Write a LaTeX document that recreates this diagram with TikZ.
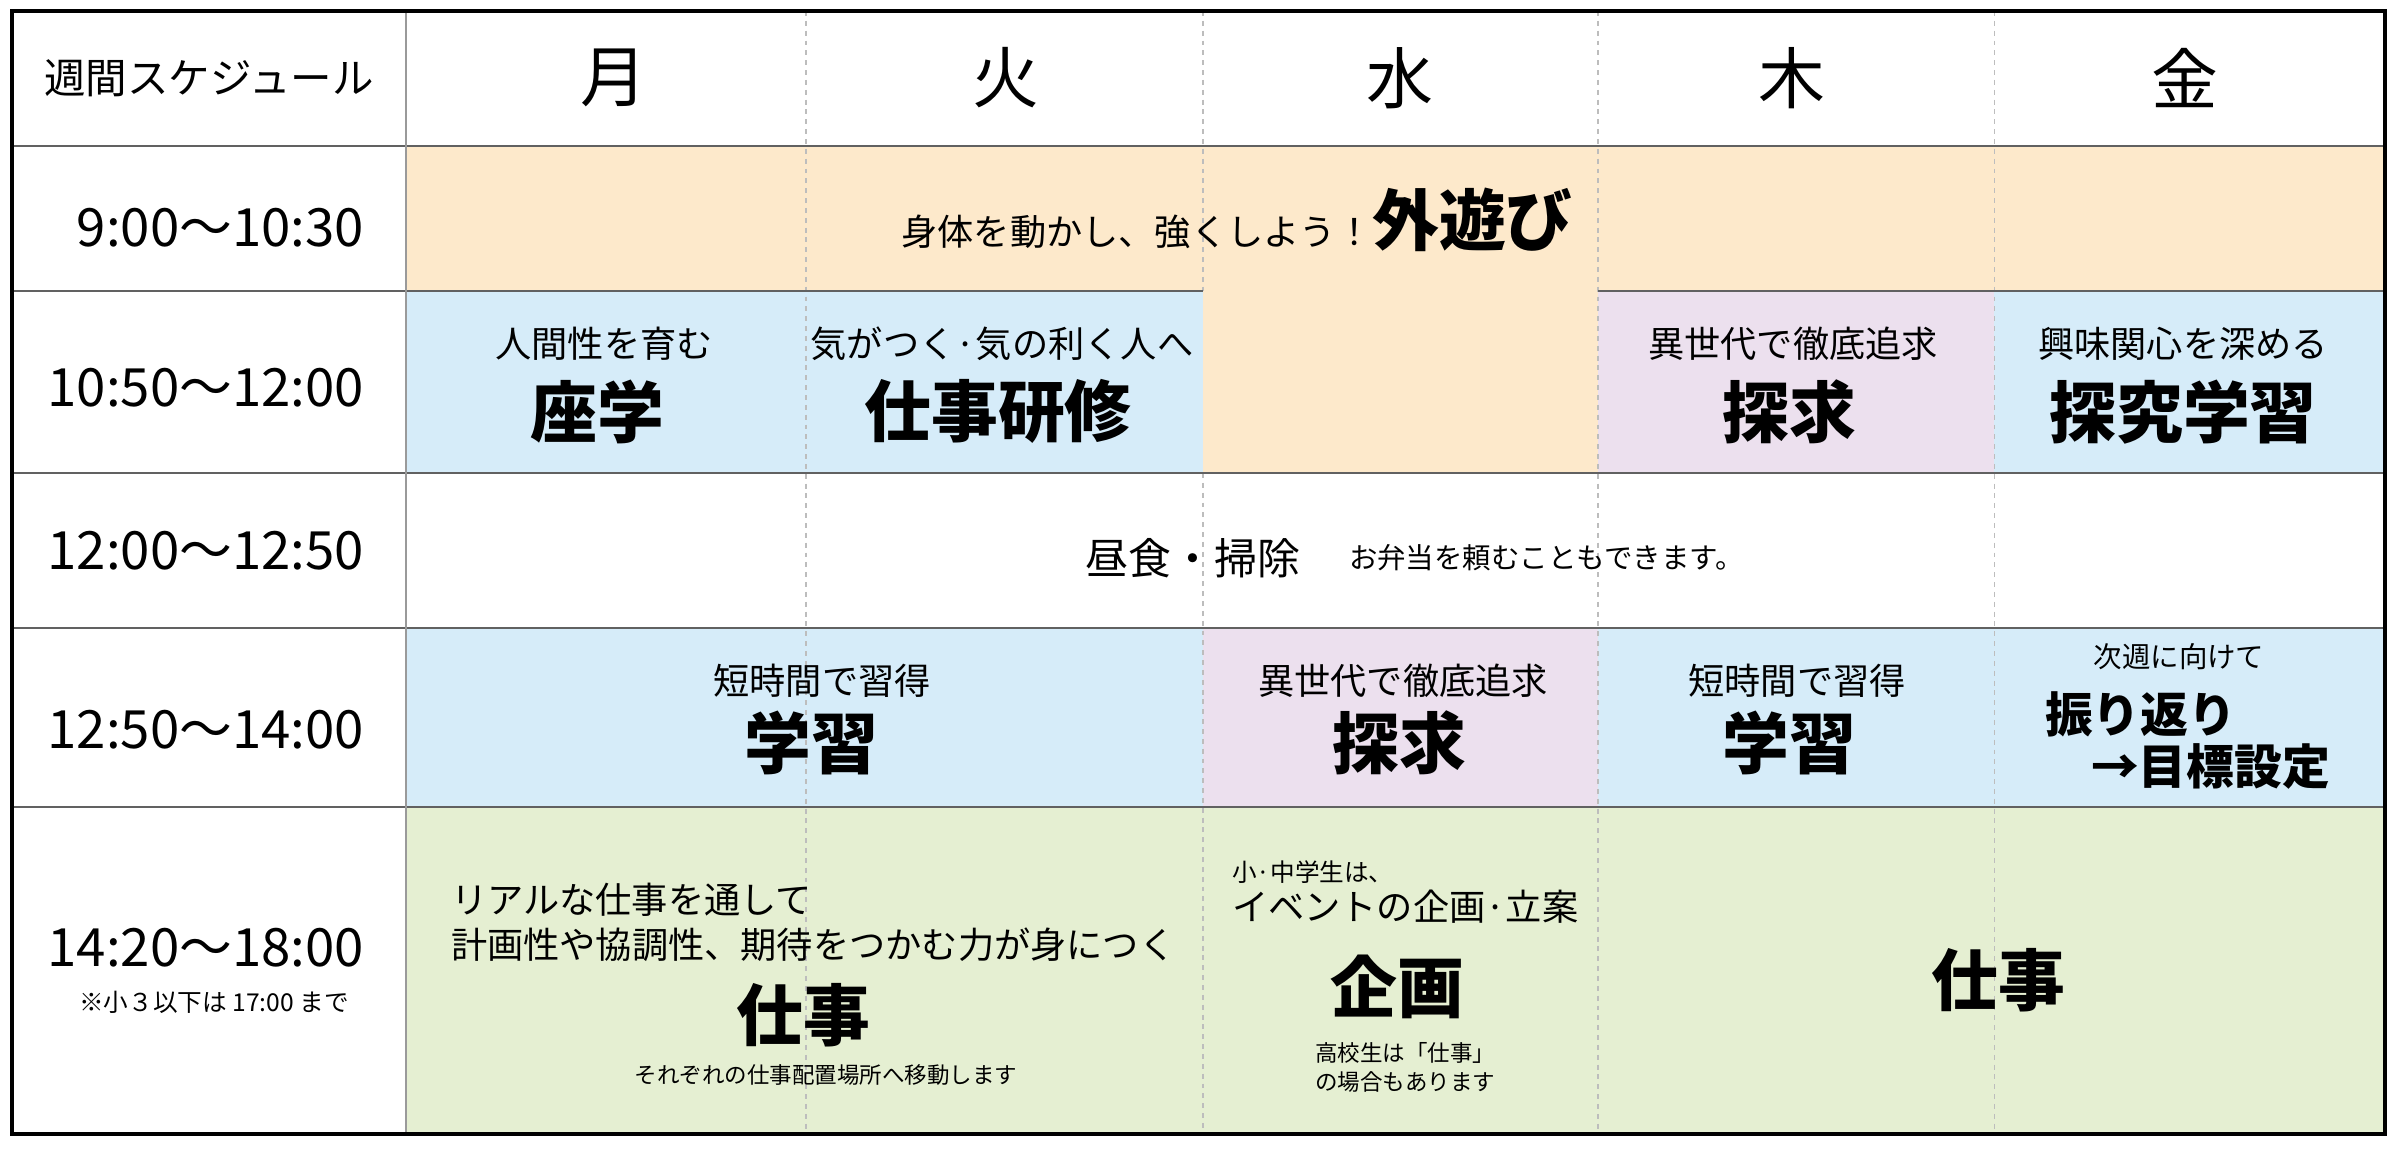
\documentclass[tikz,border=0pt]{standalone}
\usepackage{fontspec}
\usepackage{graphicx}
\setmainfont{Noto Sans CJK JP}
\definecolor{cOrange}{HTML}{FDE9CB}
\definecolor{cBlue}{HTML}{D6ECF9}
\definecolor{cLav}{HTML}{ECE0EE}
\definecolor{cGreen}{HTML}{E5EFD2}
\definecolor{cHline}{HTML}{616161}
\definecolor{cVline}{HTML}{9A9A9A}
\definecolor{cDash}{HTML}{BDBDBD}
\tikzset{
  lbl/.style={inner sep=0pt, outer sep=0pt, text=black},
  bigb/.style={lbl, font=\fontsize{19pt}{22pt}\selectfont\bfseries},
  midb/.style={lbl, font=\fontsize{13.6pt}{16pt}\selectfont\bfseries},
  med/.style={lbl, font=\fontsize{10.3pt}{12pt}\selectfont},
  lunch/.style={lbl, font=\fontsize{12.2pt}{14pt}\selectfont},
  note/.style={lbl, font=\fontsize{8.1pt}{9pt}\selectfont},
  tiny/.style={lbl, font=\fontsize{6.4pt}{8pt}\selectfont},
  sml/.style={lbl, font=\fontsize{7pt}{8pt}\selectfont},
  dayhd/.style={lbl, font=\fontsize{19pt}{22pt}\selectfont},
  timelbl/.style={lbl, anchor=east, font=\fontsize{15pt}{17pt}\selectfont},
  hline/.style={draw=cHline, line width=0.6pt},
  vline/.style={draw=cVline, line width=0.45pt},
  dashline/.style={draw=cDash, line width=0.3pt, dash pattern=on 1.4pt off 1.4pt},
}
\begin{document}
\begin{tikzpicture}[x=0.01cm, y=-0.01cm]
\useasboundingbox (0,0) rectangle (2400,1148);
\fill[white] (0,0) rectangle (2400,1148);
% fills
\fill[cOrange] (406,146) rectangle (2385,291);
\fill[cOrange] (1203,291) rectangle (1598,473);
\fill[cBlue] (406,291) rectangle (1203,473);
\fill[cLav] (1598,291) rectangle (1994,473);
\fill[cBlue] (1994,291) rectangle (2385,473);
\fill[cBlue] (406,628) rectangle (1203,807);
\fill[cLav] (1203,628) rectangle (1598,807);
\fill[cBlue] (1598,628) rectangle (2385,807);
\fill[cGreen] (406,807) rectangle (2385,1134);
% dashed day separators
\foreach \x in {806,1598,1994} \draw[dashline] (\x,11) -- (\x,1134);
\draw[dashline] (1203,11) -- (1203,291);
\draw[dashline] (1203,473) -- (1203,1134);
% horizontal rules
\draw[hline] (12,146) -- (2385,146);
\draw[hline] (12,291) -- (1203,291);
\draw[hline] (1598,291) -- (2385,291);
\draw[hline] (12,473) -- (2385,473);
\draw[hline] (12,628) -- (2385,628);
\draw[hline] (12,807) -- (2385,807);
\draw[vline] (406,11) -- (406,1134);
\draw[line width=1.1pt] (12,11) rectangle (2385,1134);
% header
\node[lbl, font=\fontsize{11.8pt}{14pt}\selectfont] (hdr) at (209,78) {週間スケジュール};
\node[dayhd] (mon) at (614,78) {月};
\node[dayhd] (tue) at (1006,78) {火};
\node[dayhd] (wed) at (1400,78) {水};
\node[dayhd] (thu) at (1792,78) {木};
\node[dayhd] (fri) at (2185,78) {金};
% time labels
\node[timelbl] (t1) at (364,228) {9:00～10:30};
\node[timelbl] (t2) at (364,388) {10:50～12:00};
\node[timelbl] (t3) at (364,551) {12:00～12:50};
\node[timelbl] (t4) at (364,730) {12:50～14:00};
\node[timelbl] (t5) at (364,948) {14:20～18:00};
\node[sml] (t5n) at (214,1002) {※小３以下は 17:00 まで};
% row 1
\node[lbl] (play) at (1237,220) {{\fontsize{10.3pt}{12pt}\selectfont 身体を動かし、強くしよう！}{\fontsize{19pt}{22pt}\selectfont\bfseries 外遊び}};
% row 2
\node[med] (r2a) at (604,344) {人間性を育む};
\node[bigb] (r2b) at (597,412) {座学};
\node[med] (r2c) at (1002,344) {気がつく·気の利く人へ};
\node[bigb] (r2d) at (998,411) {仕事研修};
\node[med] (r2e) at (1793,344) {異世代で徹底追求};
\node[bigb] (r2f) at (1789,412) {探求};
\node[med] (r2g) at (2183,344) {興味関心を深める};
\node[bigb] (r2h) at (2183,412) {探究学習};
% row 3
\node[lunch] (r3a) at (1193,558) {昼食・掃除};
\node[note, anchor=west] (r3b) at (1349,558) {お弁当を頼むこともできます。};
% row 4
\node[med] (r4a) at (822,681) {短時間で習得};
\node[bigb] (r4b) at (811,743) {学習};
\node[med] (r4c) at (1403,681) {異世代で徹底追求};
\node[bigb] (r4d) at (1399,743) {探求};
\node[med] (r4e) at (1797,681) {短時間で習得};
\node[bigb] (r4f) at (1789,743) {学習};
\node[note] (r4g) at (2179,657) {次週に向けて};
\node[midb, anchor=west] (r4h) at (2045,714) {振り返り};
\node[midb, anchor=west] (r4i) at (2091,766) {→目標設定};
% row 5
\node[med, anchor=west] (r5a) at (451,900) {リアルな仕事を通して};
\node[med, anchor=west] (r5b) at (451,945) {計画性や協調性、期待をつかむ力が身につく};
\node[bigb] (r5c) at (803,1015) {仕事};
\node[tiny] (r5d) at (826,1075) {それぞれの仕事配置場所へ移動します};
\node[sml, anchor=west] (r5e) at (1232,872) {小·中学生は、};
\node[med, anchor=west] (r5f) at (1232,907) {イベントの企画·立案};
\node[bigb] (r5g) at (1397,987) {企画};
\node[tiny, anchor=west] (r5h) at (1315,1053) {高校生は「仕事」};
\node[tiny, anchor=west] (r5i) at (1315,1082) {の場合もあります};
\node[bigb] (r5j) at (1998,980) {仕事};
\end{tikzpicture}
\end{document}
